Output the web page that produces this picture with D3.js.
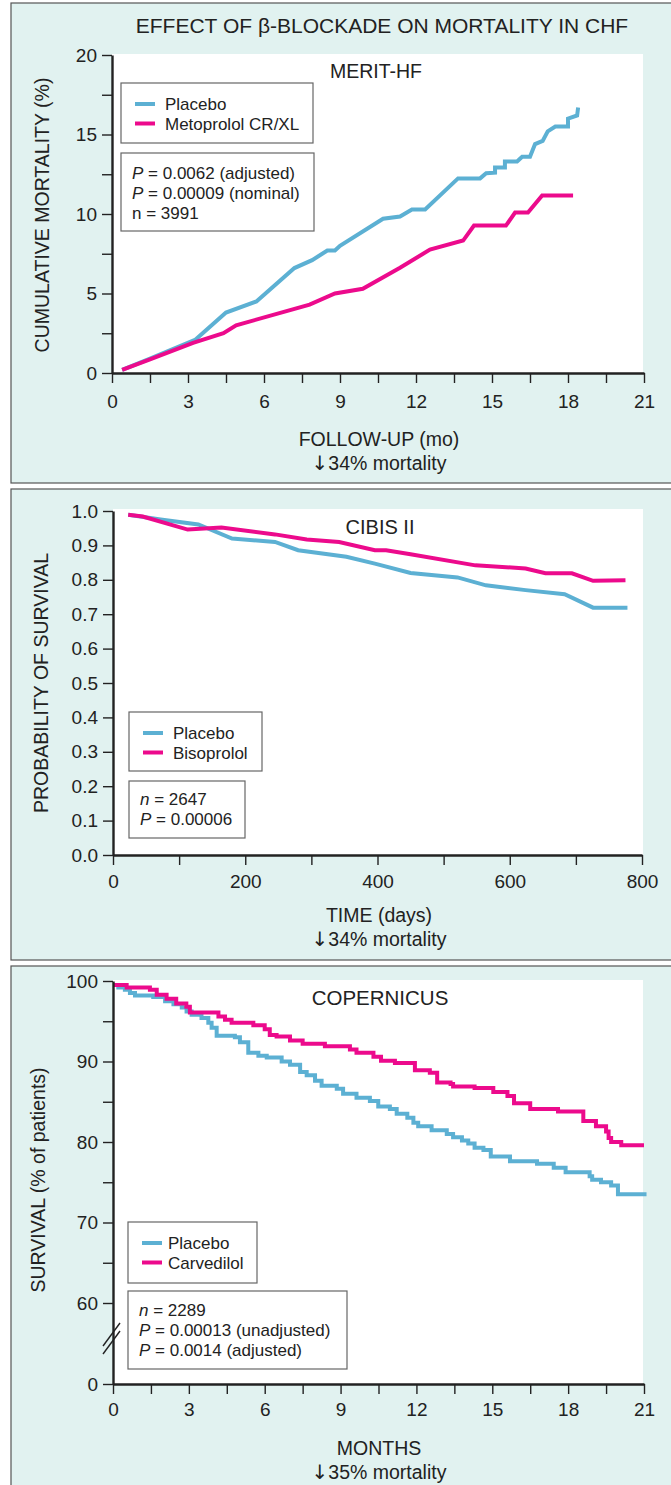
<!DOCTYPE html>
<html>
<head>
<meta charset="utf-8">
<script src="https://cdn.jsdelivr.net/npm/d3@7"></script>
<style>
  body { margin: 0; background: #fff; }
  svg text { font-family: "Liberation Sans", Arial, sans-serif; fill: #222; }
</style>
</head>
<body>
<div class="chart"></div>
<script>
// ---- data ----
// MERIT-HF: cumulative mortality (%) vs follow-up (months)
const meritPlacebo = [[0.4,0.2],[1.5,0.9],[3.3,2.1],[4.5,3.8],[5.7,4.5],[7.2,6.6],[7.9,7.1],[8.5,7.7],[8.8,7.7],[9.0,8.0],
  [10.7,9.7],[11.37,9.84],[11.84,10.28],[12.36,10.28],[13.66,12.24],[14.53,12.24],[14.77,12.56],[15.12,12.6],[15.12,12.93],
  [15.51,12.93],[15.51,13.3],[15.99,13.3],[16.19,13.6],[16.5,13.6],[16.7,14.4],[17.0,14.6],[17.2,15.2],[17.5,15.5],
  [18.0,15.5],[18.0,16.0],[18.36,16.2],[18.4,16.7]];
const meritMetoprolol = [[0.4,0.2],[1.5,0.85],[3.2,1.9],[4.4,2.5],[4.9,3.0],[7.8,4.3],[8.8,5.0],[9.9,5.3],[11.37,6.62],
  [12.55,7.76],[13.86,8.33],[14.29,9.27],[15.55,9.27],[15.91,10.09],[16.42,10.09],[16.98,11.17],[18.2,11.17]];

// CIBIS II: probability of survival vs time (days)
const cibisPlacebo = [[23,0.989],[72,0.975],[129,0.961],[180,0.920],[245,0.910],[280,0.886],[353,0.867],[396,0.847],
  [450,0.820],[521,0.807],[564,0.784],[624,0.770],[683,0.758],[726,0.719],[778,0.719]];
const cibisBisoprolol = [[23,0.989],[45,0.984],[113,0.946],[164,0.952],[245,0.932],[293,0.917],[342,0.910],[396,0.886],
  [413,0.886],[450,0.874],[548,0.842],[624,0.833],[654,0.819],[694,0.819],[726,0.797],[775,0.799]];

// COPERNICUS: survival (% of patients) vs months, step curves
const copPlacebo = [[0,99.5],[0.21,99.2],[0.47,98.9],[0.67,98.5],[0.87,98.2],[1.59,98.0],[2.06,97.5],[2.39,97.1],
  [2.72,96.7],[2.91,96.2],[3.11,95.8],[3.5,95.4],[3.77,94.8],[3.9,94.2],[4.1,93.2],[4.82,93.0],[5.02,92.4],[5.35,91.1],
  [5.75,90.7],[6.08,90.5],[6.67,90.0],[7.0,89.6],[7.4,88.7],[7.66,88.3],[7.99,87.6],[8.25,87.0],[8.85,86.6],[9.1,86.0],
  [9.63,85.5],[10.16,85.1],[10.49,84.4],[10.95,84.1],[11.22,83.5],[11.64,83.0],[11.88,82.4],[12.07,81.95],[12.6,81.45],
  [13.2,81.0],[13.45,80.6],[13.8,80.2],[14.05,79.8],[14.3,79.3],[14.65,79.0],[14.94,78.2],[15.7,77.6],[16.77,77.3],
  [17.43,76.8],[17.9,76.25],[18.85,75.75],[18.95,75.3],[19.3,75.0],[19.7,74.6],[19.97,73.5],[21.1,73.5]];
const copCarvedilol = [[0,99.5],[0.54,99.2],[1.46,98.9],[1.73,98.3],[2.12,97.8],[2.5,97.2],[2.9,96.8],[3.04,96.1],
  [4.17,95.6],[4.43,95.2],[4.69,94.8],[5.55,94.5],[6.0,94.0],[6.2,93.3],[6.47,93.1],[7.0,92.6],[7.5,92.2],[8.38,91.9],
  [9.37,91.5],[9.63,91.1],[10.3,90.6],[10.6,90.1],[11.15,89.8],[11.94,88.9],[12.53,88.6],[12.82,87.4],[13.35,87.2],
  [13.45,86.9],[14.3,86.7],[15.04,86.2],[15.6,85.7],[15.86,84.8],[16.5,84.1],[17.6,83.8],[18.6,82.6],[19.1,81.95],
  [19.5,81.3],[19.6,80.5],[19.7,80.0],[20.1,79.6],[21.0,79.6]];

// ticks and labels
const monthTicks = d3.range(0, 21.01, 1.5);
const monthLabels = [0, 3, 6, 9, 12, 15, 18, 21];
const meritYTicks = d3.range(0, 20.01, 2.5);
const meritYLabels = [0, 5, 10, 15, 20];
const dayTicks = d3.range(0, 801, 100);
const dayLabels = [0, 200, 400, 600, 800];
const survTicks = d3.range(0, 1.001, 0.1);
const copYTicks = [0, 60, 65, 70, 75, 80, 85, 90, 95, 100];
const copYLabels = [0, 60, 70, 80, 90, 100];

const BLUE = '#5cb0d3', PINK = '#ec0a8c', BG = '#e1f2f0';

const W = 671, H = 1485;
var svg = d3.select('.chart').append('svg')
    .attr('width', W).attr('height', H)
    .attr('viewBox', '0 0 ' + W + ' ' + H);

// panel frames
[[3, 483], [489, 960], [966, 1490]].forEach(function(p) {
    svg.append('rect')
        .attr('x', 11).attr('y', p[0])
        .attr('width', 670).attr('height', p[1] - p[0])
        .attr('fill', BG)
        .attr('stroke', '#555')
        .attr('stroke-width', 1.2);
});

svg.append('text')
    .attr('x', 382).attr('y', 33)
    .attr('text-anchor', 'middle')
    .style('font-size', '21px')
    .text('EFFECT OF β-BLOCKADE ON MORTALITY IN CHF');

function drawPanel(o) {
    var g = svg.append('g');
    // white plot area
    g.append('rect')
        .attr('x', o.x.range()[0]).attr('y', o.top)
        .attr('width', 643 - o.x.range()[0]).attr('height', o.y.range()[0] - o.top)
        .attr('fill', '#fff');

    g.append('text')
        .attr('x', o.titleX).attr('y', o.titleY)
        .attr('text-anchor', 'middle')
        .style('font-size', o.titleSize + 'px')
        .text(o.title);

    // series
    var line = d3.line()
        .x(function(d) { return o.x(d[0]); })
        .y(function(d) { return o.y(d[1]); })
        .curve(o.curve || d3.curveLinear);
    o.series.forEach(function(s) {
        g.append('path')
            .datum(s.data)
            .attr('d', line)
            .attr('fill', 'none')
            .attr('stroke', s.color)
            .attr('stroke-width', 4)
            .attr('stroke-linejoin', 'miter');
    });

    // axes
    var xAxis = d3.axisBottom(o.x)
        .tickValues(o.xTicks)
        .tickSize(10).tickSizeOuter(0).tickPadding(o.xPad)
        .tickFormat(function(d) { return o.xLabels.indexOf(d) >= 0 ? d3.format('')(d) : ''; });
    var yAxis = d3.axisLeft(o.y)
        .tickValues(o.yTicks)
        .tickSize(10).tickSizeOuter(0).tickPadding(5)
        .tickFormat(o.yFormat);

    var xg = g.append('g')
        .attr('transform', 'translate(0,' + o.y.range()[0] + ')')
        .call(xAxis);
    var yg = g.append('g')
        .attr('transform', 'translate(' + o.x.range()[0] + ',0)')
        .call(yAxis);
    [xg, yg].forEach(function(a) {
        a.select('.domain').attr('stroke', '#222').attr('stroke-width', 2.4);
        a.selectAll('.tick line').attr('stroke', '#222').attr('stroke-width', 1.4);
        a.selectAll('.tick text').style('font-size', '19px').attr('fill', '#222')
            .style('font-family', '"Liberation Sans", Arial, sans-serif');
    });

    // axis titles
    g.append('text')
        .attr('transform', 'translate(' + o.yTitleX + ',' + o.yTitleY + ') rotate(-90)')
        .attr('text-anchor', 'middle')
        .style('font-size', '19.5px')
        .text(o.yTitle);
    g.append('text')
        .attr('x', 379).attr('y', o.xTitleY)
        .attr('text-anchor', 'middle')
        .style('font-size', '19.5px')
        .text(o.xTitle);
    // "↓xx% mortality" line, arrow from DejaVu so it keeps full height
    var sub = g.append('text')
        .attr('x', 379).attr('y', o.xTitleY + 24)
        .attr('text-anchor', 'middle')
        .style('font-size', '19.5px');
    sub.append('tspan')
        .style('font-family', '"DejaVu Sans", sans-serif')
        .style('font-size', '20px')
        .text('↓');
    sub.append('tspan').text(o.drop + ' mortality');

    // legend box
    var L = o.legend;
    g.append('rect')
        .attr('x', L.x).attr('y', L.y).attr('width', L.w).attr('height', L.h)
        .attr('fill', '#fff').attr('stroke', '#666').attr('stroke-width', 1.2);
    o.series.forEach(function(s, i) {
        var cy = L.y + L.first + i * 19.5;
        g.append('line')
            .attr('x1', L.x + 14).attr('x2', L.x + 34)
            .attr('y1', cy).attr('y2', cy)
            .attr('stroke', s.color).attr('stroke-width', 4);
        g.append('text')
            .attr('x', L.x + L.tx).attr('y', cy + 6)
            .style('font-size', '17px')
            .text(s.name);
    });

    // stats box
    var S = o.stats;
    g.append('rect')
        .attr('x', S.x).attr('y', S.y).attr('width', S.w).attr('height', S.h)
        .attr('fill', '#fff').attr('stroke', '#666').attr('stroke-width', 1.2);
    S.lines.forEach(function(ln, i) {
        var t = g.append('text')
            .attr('x', S.x + 11).attr('y', S.y + S.first + i * 20 + 6)
            .style('font-size', '17px');
        t.append('tspan').style('font-style', ln[0] ? 'italic' : 'normal').text(ln[1]);
        t.append('tspan').text(ln[2]);
    });
    return g;
}

// MERIT-HF
drawPanel({
    x: d3.scaleLinear().domain([0, 21]).range([112, 644]),
    y: d3.scaleLinear().domain([0, 20]).range([373, 55]),
    top: 54,
    title: 'MERIT-HF', titleX: 376, titleY: 78, titleSize: 19.5,
    series: [
        {name: 'Placebo', data: meritPlacebo, color: BLUE},
        {name: 'Metoprolol CR/XL', data: meritMetoprolol, color: PINK}
    ],
    xTicks: monthTicks, xLabels: monthLabels, xPad: 12,
    yTicks: meritYTicks,
    yFormat: function(d) { return meritYLabels.indexOf(d) >= 0 ? d : ''; },
    yTitle: 'CUMULATIVE MORTALITY (%)', yTitleX: 49, yTitleY: 215,
    xTitle: 'FOLLOW-UP (mo)', drop: '34%', xTitleY: 446,
    legend: {x: 121, y: 83, w: 192, h: 60, first: 21, tx: 44},
    stats: {x: 121, y: 153, w: 193, h: 78, first: 20, lines: [
        [true, 'P', ' = 0.0062 (adjusted)'],
        [true, 'P', ' = 0.00009 (nominal)'],
        [false, 'n', ' = 3991']
    ]}
});

// CIBIS II
drawPanel({
    x: d3.scaleLinear().domain([0, 800]).range([113, 642]),
    y: d3.scaleLinear().domain([0, 1]).range([855, 511]),
    top: 509,
    title: 'CIBIS II', titleX: 380, titleY: 534, titleSize: 20,
    series: [
        {name: 'Placebo', data: cibisPlacebo, color: BLUE},
        {name: 'Bisoprolol', data: cibisBisoprolol, color: PINK}
    ],
    xTicks: dayTicks, xLabels: dayLabels, xPad: 10,
    yTicks: survTicks,
    yFormat: d3.format('.1f'),
    yTitle: 'PROBABILITY OF SURVIVAL', yTitleX: 48, yTitleY: 683,
    xTitle: 'TIME (days)', drop: '34%', xTitleY: 922,
    legend: {x: 129, y: 712, w: 133, h: 59, first: 21, tx: 44},
    stats: {x: 129, y: 781, w: 116, h: 57, first: 18, lines: [
        [true, 'n', ' = 2647'],
        [true, 'P', ' = 0.00006']
    ]}
});

// COPERNICUS (broken y axis between 0 and 60)
var copG = drawPanel({
    x: d3.scaleLinear().domain([0, 21]).range([113, 644]),
    y: d3.scaleLinear().domain([0, 60, 100]).range([1384, 1303, 981]),
    top: 980,
    title: 'COPERNICUS', titleX: 380, titleY: 1005, titleSize: 20.5,
    curve: d3.curveStepAfter,
    series: [
        {name: 'Placebo', data: copPlacebo, color: BLUE},
        {name: 'Carvedilol', data: copCarvedilol, color: PINK}
    ],
    xTicks: monthTicks, xLabels: monthLabels, xPad: 9,
    yTicks: copYTicks,
    yFormat: function(d) { return copYLabels.indexOf(d) >= 0 ? d : ''; },
    yTitle: 'SURVIVAL (% of patients)', yTitleX: 45, yTitleY: 1180,
    xTitle: 'MONTHS', drop: '35%', xTitleY: 1455,
    legend: {x: 128, y: 1222, w: 129, h: 61, first: 21, tx: 40},
    stats: {x: 128, y: 1291, w: 219, h: 78, first: 19, lines: [
        [true, 'n', ' = 2289'],
        [true, 'P', ' = 0.00013 (unadjusted)'],
        [true, 'P', ' = 0.0014 (adjusted)']
    ]}
});

// axis break marks
[0, 8].forEach(function(dy) {
    copG.append('line')
        .attr('x1', 103).attr('y1', 1354 - dy)
        .attr('x2', 120).attr('y2', 1331 - dy)
        .attr('stroke', '#222').attr('stroke-width', 1.4);
});
</script>
</body>
</html>
